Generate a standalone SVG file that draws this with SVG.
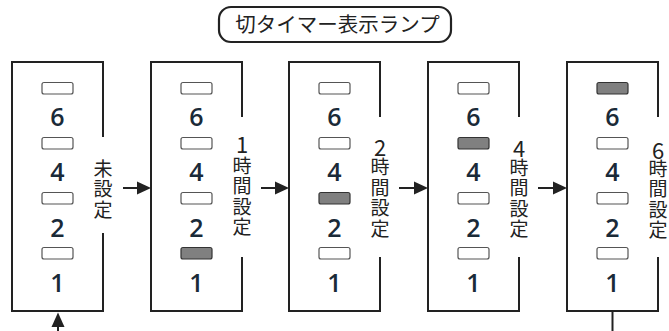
<svg xmlns="http://www.w3.org/2000/svg" width="669" height="331" viewBox="0 0 669 331">
<style>
.box{fill:none;stroke:#222;stroke-width:2}
.off{fill:#fff;stroke:#555;stroke-width:1.2}
.on{fill:#808080;stroke:#333;stroke-width:1.2}
.num{font-family:"Open Sans","Noto Sans",sans-serif;font-weight:600;font-size:25px;fill:#1a2a38;text-anchor:middle}
.lbl{font-family:"Noto Sans CJK JP","Noto Sans",sans-serif;font-size:19px;fill:#222;text-anchor:middle}
.dg{font-family:"Noto Sans CJK JP","Noto Sans",sans-serif;font-size:22px;fill:#222;text-anchor:middle}
.title{font-family:"Noto Sans CJK JP","Noto Sans",sans-serif;font-size:20.5px;fill:#222;text-anchor:middle}
.ln{stroke:#222;stroke-width:2;fill:none}
.ah{fill:#222}
</style>
<rect width="669" height="331" fill="#fff"/>
<g id="title">
<rect x="219" y="7" width="232" height="35" rx="12" fill="#fff" stroke="#222" stroke-width="2.2"/>
<text class="title" x="337.5" y="32">切タイマー表示ランプ</text>
</g>
<g id="state-unset">
<path class="box" d="M103,137 V62 H12 V311 H103 V233"/>
<rect class="off" x="42" y="82.5" width="31" height="11.5" rx="2"/>
<rect class="off" x="42" y="137.5" width="31" height="11.5" rx="2"/>
<rect class="off" x="42" y="192.5" width="31" height="11.5" rx="2"/>
<rect class="off" x="42" y="247.5" width="31" height="11.5" rx="2"/>
<text class="num" x="57.5" y="125.5">6</text>
<text class="num" x="57.5" y="181">4</text>
<text class="num" x="57.5" y="236.5">2</text>
<text class="num" x="57.5" y="292">1</text>
<text class="lbl" x="103" y="175.5">未</text>
<text class="lbl" x="103" y="196">設</text>
<text class="lbl" x="103" y="216.5">定</text>
</g>
<g id="state-1h">
<path class="box" d="M242,117 V62 H151 V311 H242 V257"/>
<rect class="off" x="181" y="82.5" width="31" height="11.5" rx="2"/>
<rect class="off" x="181" y="137.5" width="31" height="11.5" rx="2"/>
<rect class="off" x="181" y="192.5" width="31" height="11.5" rx="2"/>
<rect class="on" x="181" y="247.5" width="31" height="11.5" rx="2"/>
<text class="num" x="196.5" y="125.5">6</text>
<text class="num" x="196.5" y="181">4</text>
<text class="num" x="196.5" y="236.5">2</text>
<text class="num" x="196.5" y="292">1</text>
<text class="dg" x="242" y="153">1</text>
<text class="lbl" x="242" y="172.5">時</text>
<text class="lbl" x="242" y="193">間</text>
<text class="lbl" x="242" y="213.5">設</text>
<text class="lbl" x="242" y="234">定</text>
</g>
<g id="state-2h">
<path class="box" d="M380,117 V62 H289 V311 H380 V257"/>
<rect class="off" x="319" y="82.5" width="31" height="11.5" rx="2"/>
<rect class="off" x="319" y="137.5" width="31" height="11.5" rx="2"/>
<rect class="on" x="319" y="192.5" width="31" height="11.5" rx="2"/>
<rect class="off" x="319" y="247.5" width="31" height="11.5" rx="2"/>
<text class="num" x="334.5" y="125.5">6</text>
<text class="num" x="334.5" y="181">4</text>
<text class="num" x="334.5" y="236.5">2</text>
<text class="num" x="334.5" y="292">1</text>
<text class="dg" x="380" y="156">2</text>
<text class="lbl" x="380" y="174">時</text>
<text class="lbl" x="380" y="194.5">間</text>
<text class="lbl" x="380" y="215">設</text>
<text class="lbl" x="380" y="235.5">定</text>
</g>
<g id="state-4h">
<path class="box" d="M519,117 V62 H428 V311 H519 V257"/>
<rect class="off" x="458" y="82.5" width="31" height="11.5" rx="2"/>
<rect class="on" x="458" y="137.5" width="31" height="11.5" rx="2"/>
<rect class="off" x="458" y="192.5" width="31" height="11.5" rx="2"/>
<rect class="off" x="458" y="247.5" width="31" height="11.5" rx="2"/>
<text class="num" x="473.5" y="125.5">6</text>
<text class="num" x="473.5" y="181">4</text>
<text class="num" x="473.5" y="236.5">2</text>
<text class="num" x="473.5" y="292">1</text>
<text class="dg" x="519" y="157">4</text>
<text class="lbl" x="519" y="174.5">時</text>
<text class="lbl" x="519" y="195">間</text>
<text class="lbl" x="519" y="215.5">設</text>
<text class="lbl" x="519" y="236">定</text>
</g>
<g id="state-6h">
<path class="box" d="M658,117 V62 H567 V311 H658 V257"/>
<rect class="on" x="597" y="82.5" width="31" height="11.5" rx="2"/>
<rect class="off" x="597" y="137.5" width="31" height="11.5" rx="2"/>
<rect class="off" x="597" y="192.5" width="31" height="11.5" rx="2"/>
<rect class="off" x="597" y="247.5" width="31" height="11.5" rx="2"/>
<text class="num" x="612.5" y="125.5">6</text>
<text class="num" x="612.5" y="181">4</text>
<text class="num" x="612.5" y="236.5">2</text>
<text class="num" x="612.5" y="292">1</text>
<text class="dg" x="658" y="159">6</text>
<text class="lbl" x="658" y="175.5">時</text>
<text class="lbl" x="658" y="196">間</text>
<text class="lbl" x="658" y="216.5">設</text>
<text class="lbl" x="658" y="237">定</text>
</g>
<g id="connectors">
<line class="ln" x1="123" y1="188" x2="139" y2="188"/>
<polygon class="ah" points="137,181.5 151,188 137,194.5"/>
<line class="ln" x1="261" y1="188" x2="277" y2="188"/>
<polygon class="ah" points="275,181.5 289,188 275,194.5"/>
<line class="ln" x1="399" y1="188" x2="416" y2="188"/>
<polygon class="ah" points="414,181.5 428,188 414,194.5"/>
<line class="ln" x1="538" y1="188" x2="555" y2="188"/>
<polygon class="ah" points="553,181.5 567,188 553,194.5"/>
<line class="ln" x1="612.5" y1="311" x2="612.5" y2="331"/>
<line class="ln" x1="58" y1="331" x2="58" y2="324"/>
<polygon class="ah" points="58,312.5 64.5,327 51.5,327"/>
</g>
</svg>
